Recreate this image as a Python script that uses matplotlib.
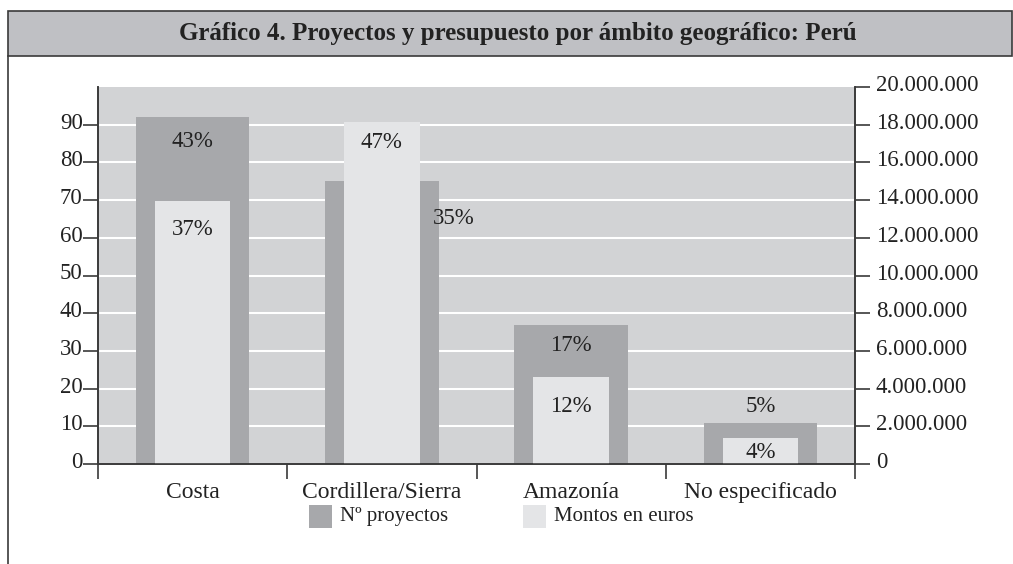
import matplotlib.pyplot as plt
import matplotlib.transforms as mtransforms
from matplotlib.patches import Rectangle
from matplotlib.lines import Line2D
from matplotlib.ticker import FuncFormatter

# data
categorias = ['Costa', 'Cordillera/Sierra', 'Amazonía', 'No especificado']
proyectos = [92, 75, 37, 11]
montos = [13950000, 18150000, 4600000, 1390000]
pct_proyectos = ['43%', '35%', '17%', '5%']
pct_montos = ['37%', '47%', '12%', '4%']

# label offsets in pixels (dx, dy) from bar top centre
off_proy = [(0, -24), (72, -37), (0, -21), (0, 16)]
off_mont = [(0, -28), (0, -21), (0, -29), (0, -15)]

DARK = '#a7a8ab'
LIGHT = '#e4e5e7'
BG = '#d2d3d5'
BAND = '#bfc0c4'
LINE = '#3a3a3a'
TXT = '#222222'

plt.rcParams['font.family'] = ['Liberation Serif', 'DejaVu Serif']

W, H = 1013, 564
fig = plt.figure(figsize=(W / 100, H / 100), dpi=100)

# frame and title band
band = Rectangle((7.5 / W, 1 - 56 / H), (1012 - 7.5) / W, 45 / H,
                 transform=fig.transFigure, facecolor=BAND,
                 edgecolor=LINE, lw=1.2)
fig.patches.append(band)
fig.lines.append(Line2D([7.5 / W, 7.5 / W], [0, 1 - 56 / H],
                        transform=fig.transFigure, color=LINE, lw=1.2))
fig.text(518 / W, 1 - 33.5 / H,
         'Gráfico 4. Proyectos y presupuesto por ámbito geográfico: Perú',
         ha='center', va='center', fontsize=18, fontweight='bold',
         color=TXT)

ax = fig.add_axes([98 / W, 1 - 464 / H, 757 / W, (464 - 87) / H])
ax.set_facecolor(BG)
ax2 = ax.twinx()

x = list(range(len(categorias)))
ax.bar(x, proyectos, width=0.6, color=DARK, zorder=2)
ax2.bar(x, montos, width=0.4, color=LIGHT, zorder=2)

ax.set_xlim(-0.5, len(categorias) - 0.5)
ax.set_ylim(0, 100)
ax2.set_ylim(0, 20000000)

ax.set_yticks(range(0, 100, 10))
ax2.set_yticks(range(0, 20000001, 2000000))
ax2.yaxis.set_major_formatter(
    FuncFormatter(lambda v, p: f'{int(v):,}'.replace(',', '.')))

ax.grid(axis='y', color='white', lw=1.5, zorder=1)
ax.set_axisbelow(True)

# category boundaries as ticks, names on minor ticks
ax.set_xticks([i - 0.5 for i in range(len(categorias) + 1)])
ax.set_xticklabels([])
ax.set_xticks(x, minor=True)
ax.set_xticklabels(categorias, minor=True, fontsize=17, color=TXT)
ax.tick_params(axis='x', which='major', length=11, width=1.2, color=LINE)
ax.tick_params(axis='x', which='minor', length=0, pad=13)

ax.tick_params(axis='y', length=11, width=1.2, color=LINE, pad=0,
               labelsize=16.5, labelcolor=TXT)
ax2.tick_params(axis='y', length=11, width=1.2, color=LINE, pad=4,
                labelsize=16.5, labelcolor=TXT)

up = mtransforms.ScaledTranslation(0, 4 / 100, fig.dpi_scale_trans)
for lab in ax.get_yticklabels() + ax2.get_yticklabels():
    lab.set_transform(lab.get_transform() + up)

for a in (ax, ax2):
    a.spines['top'].set_visible(False)
    for s in ('left', 'right', 'bottom'):
        a.spines[s].set_color(LINE)
        a.spines[s].set_linewidth(1.2)

for i in x:
    ax.annotate(pct_proyectos[i], (i, proyectos[i]), xytext=off_proy[i],
                textcoords='offset pixels', ha='center', va='center',
                fontsize=16.5, color=TXT, zorder=3)
    ax2.annotate(pct_montos[i], (i, montos[i]), xytext=off_mont[i],
                 textcoords='offset pixels', ha='center', va='center',
                 fontsize=16.5, color=TXT, zorder=3)

# legend
for sx, col, lab in [(309, DARK, 'Nº proyectos'), (523, LIGHT, 'Montos en euros')]:
    fig.patches.append(Rectangle((sx / W, 1 - 528 / H), 23 / W, 23 / H,
                                 transform=fig.transFigure, facecolor=col,
                                 edgecolor='none'))
    fig.text((sx + 31) / W, 1 - 516.5 / H, lab, ha='left', va='center',
             fontsize=15, color=TXT)

fig.savefig('out.png', dpi=100)
